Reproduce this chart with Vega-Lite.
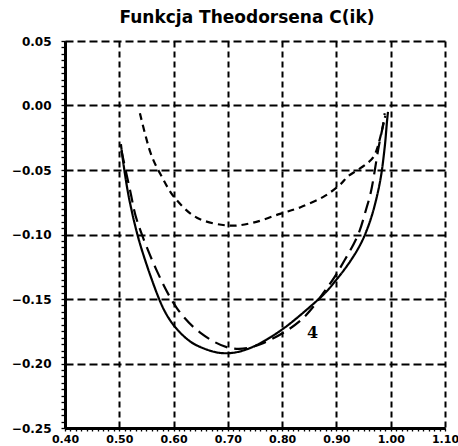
{
  "$schema": "https://vega.github.io/schema/vega-lite/v6.json",
  "autosize": {"type": "none"},
  "padding": {"left": 65, "top": 41, "right": 13, "bottom": 19},
  "width": 380,
  "height": 387,
  "background": "white",
  "title": {"text": "Funkcja  Theodorsena  C(ik)", "font": "DejaVu Sans", "fontSize": 17, "fontWeight": "bold", "color": "black", "anchor": "middle", "offset": 8, "dx": -8},
  "config": {"view": {"stroke": null}},
  "datasets": {
    "curves": [
      {"s": "solid", "i": 0, "x": 0.503, "y": -0.030},
      {"s": "solid", "i": 1, "x": 0.510, "y": -0.052},
      {"s": "solid", "i": 2, "x": 0.520, "y": -0.076},
      {"s": "solid", "i": 3, "x": 0.538, "y": -0.107},
      {"s": "solid", "i": 4, "x": 0.566, "y": -0.142},
      {"s": "solid", "i": 5, "x": 0.587, "y": -0.162},
      {"s": "solid", "i": 6, "x": 0.612, "y": -0.176},
      {"s": "solid", "i": 7, "x": 0.643, "y": -0.186},
      {"s": "solid", "i": 8, "x": 0.691, "y": -0.192},
      {"s": "solid", "i": 9, "x": 0.741, "y": -0.188},
      {"s": "solid", "i": 10, "x": 0.802, "y": -0.173},
      {"s": "solid", "i": 11, "x": 0.870, "y": -0.149},
      {"s": "solid", "i": 12, "x": 0.900, "y": -0.135},
      {"s": "solid", "i": 13, "x": 0.925, "y": -0.121},
      {"s": "solid", "i": 14, "x": 0.945, "y": -0.107},
      {"s": "solid", "i": 15, "x": 0.960, "y": -0.092},
      {"s": "solid", "i": 16, "x": 0.972, "y": -0.075},
      {"s": "solid", "i": 17, "x": 0.982, "y": -0.055},
      {"s": "solid", "i": 18, "x": 0.989, "y": -0.032},
      {"s": "solid", "i": 19, "x": 0.993, "y": -0.013},
      {"s": "solid", "i": 20, "x": 0.995, "y": -0.005},
      {"s": "long", "i": 0, "x": 0.504, "y": -0.035},
      {"s": "long", "i": 1, "x": 0.520, "y": -0.066},
      {"s": "long", "i": 2, "x": 0.534, "y": -0.091},
      {"s": "long", "i": 3, "x": 0.569, "y": -0.128},
      {"s": "long", "i": 4, "x": 0.606, "y": -0.157},
      {"s": "long", "i": 5, "x": 0.649, "y": -0.176},
      {"s": "long", "i": 6, "x": 0.704, "y": -0.188},
      {"s": "long", "i": 7, "x": 0.760, "y": -0.185},
      {"s": "long", "i": 8, "x": 0.833, "y": -0.167},
      {"s": "long", "i": 9, "x": 0.885, "y": -0.140},
      {"s": "long", "i": 10, "x": 0.915, "y": -0.120},
      {"s": "long", "i": 11, "x": 0.940, "y": -0.100},
      {"s": "long", "i": 12, "x": 0.955, "y": -0.080},
      {"s": "long", "i": 13, "x": 0.965, "y": -0.064},
      {"s": "long", "i": 14, "x": 0.977, "y": -0.034},
      {"s": "long", "i": 15, "x": 0.985, "y": -0.017},
      {"s": "long", "i": 16, "x": 0.989, "y": -0.006},
      {"s": "short", "i": 0, "x": 0.538, "y": -0.006},
      {"s": "short", "i": 1, "x": 0.557, "y": -0.036},
      {"s": "short", "i": 2, "x": 0.578, "y": -0.055},
      {"s": "short", "i": 3, "x": 0.603, "y": -0.072},
      {"s": "short", "i": 4, "x": 0.643, "y": -0.087},
      {"s": "short", "i": 5, "x": 0.698, "y": -0.093},
      {"s": "short", "i": 6, "x": 0.745, "y": -0.091},
      {"s": "short", "i": 7, "x": 0.796, "y": -0.084},
      {"s": "short", "i": 8, "x": 0.833, "y": -0.079},
      {"s": "short", "i": 9, "x": 0.875, "y": -0.071},
      {"s": "short", "i": 10, "x": 0.905, "y": -0.062},
      {"s": "short", "i": 11, "x": 0.921, "y": -0.055},
      {"s": "short", "i": 12, "x": 0.939, "y": -0.050},
      {"s": "short", "i": 13, "x": 0.956, "y": -0.045},
      {"s": "short", "i": 14, "x": 0.968, "y": -0.040},
      {"s": "short", "i": 15, "x": 0.976, "y": -0.032},
      {"s": "short", "i": 16, "x": 0.984, "y": -0.019},
      {"s": "short", "i": 17, "x": 0.990, "y": -0.008}
    ],
    "labels": [{"x": 0.856, "y": -0.176, "t": "4"}]
  },
  "encoding": {
    "x": {"field": "x", "type": "quantitative",
      "scale": {"domain": [0.4, 1.1], "nice": false, "zero": false},
      "axis": {"values": [0.4,0.41,0.42,0.43,0.44,0.45,0.46,0.47,0.48,0.49,0.5,0.51,0.52,0.53,0.54,0.55,0.56,0.57,0.58,0.59,0.6,0.61,0.62,0.63,0.64,0.65,0.66,0.67,0.68,0.69,0.7,0.71,0.72,0.73,0.74,0.75,0.76,0.77,0.78,0.79,0.8,0.81,0.82,0.83,0.84,0.85,0.86,0.87,0.88,0.89,0.9,0.91,0.92,0.93,0.94,0.95,0.96,0.97,0.98,0.99,1.0,1.01,1.02,1.03,1.04,1.05,1.06,1.07,1.08,1.09,1.1],
        "format": ".2f", "title": null,
        "labelExpr": "abs(datum.value*10 - round(datum.value*10)) < 0.000001 ? datum.label : ''",
        "labelOverlap": false, "labelFlush": false,
        "labelFont": "DejaVu Sans", "labelFontWeight": "bold", "labelFontSize": 11, "labelColor": "black",
        "labelPadding": 2,
        "tickSize": 3,
        "tickColor": "black",
        "tickWidth": 1.3,
        "domainColor": "black", "domainWidth": 3,
        "grid": true, "gridColor": "black", "gridWidth": 2, "gridDash": [6, 4],
        "gridOpacity": {"condition": {"test": "abs(datum.value*10 - round(datum.value*10)) < 0.000001", "value": 1}, "value": 0}}},
    "y": {"field": "y", "type": "quantitative",
      "scale": {"domain": [-0.25, 0.05], "nice": false, "zero": false},
      "axis": {"values": [-0.25,-0.245,-0.24,-0.235,-0.23,-0.225,-0.22,-0.215,-0.21,-0.205,-0.2,-0.195,-0.19,-0.185,-0.18,-0.175,-0.17,-0.165,-0.16,-0.155,-0.15,-0.145,-0.14,-0.135,-0.13,-0.125,-0.12,-0.115,-0.11,-0.105,-0.1,-0.095,-0.09,-0.085,-0.08,-0.075,-0.07,-0.065,-0.06,-0.055,-0.05,-0.045,-0.04,-0.035,-0.03,-0.025,-0.02,-0.015,-0.01,-0.005,0.0,0.005,0.01,0.015,0.02,0.025,0.03,0.035,0.04,0.045,0.05],
        "format": ".2f", "title": null,
        "labelExpr": "abs(datum.value*20 - round(datum.value*20)) < 0.000001 ? datum.label : ''",
        "labelOverlap": false, "labelFlush": false,
        "labelFont": "DejaVu Sans", "labelFontWeight": "bold", "labelFontSize": 12, "labelColor": "black",
        "labelPadding": 10,
        "tickSize": 4,
        "tickColor": "black",
        "tickWidth": 1.3,
        "domainColor": "black", "domainWidth": 3,
        "grid": true, "gridColor": "black", "gridWidth": 2, "gridDash": [8, 4],
        "gridOpacity": {"condition": {"test": "abs(datum.value*20 - round(datum.value*20)) < 0.000001", "value": 1}, "value": 0}}}
  },
  "layer": [
    {
      "data": {"name": "curves"},
      "mark": {"type": "line", "color": "black", "interpolate": "cardinal", "clip": true},
      "encoding": {
        "detail": {"field": "s"},
        "order": {"field": "i", "type": "quantitative"},
        "strokeDash": {"field": "s", "type": "nominal", "legend": null,
          "scale": {"domain": ["solid", "long", "short"], "range": [[1, 0], [13, 7], [7, 5]]}},
        "strokeWidth": {"field": "s", "type": "nominal", "legend": null,
          "scale": {"domain": ["solid", "long", "short"], "range": [2.2, 2.2, 1.5]}}
      }
    },
    {
      "data": {"name": "labels"},
      "mark": {"type": "text", "font": "DejaVu Serif", "fontWeight": "bold", "fontSize": 16, "color": "black"},
      "encoding": {
        "text": {"field": "t"}
      }
    }
  ]
}
